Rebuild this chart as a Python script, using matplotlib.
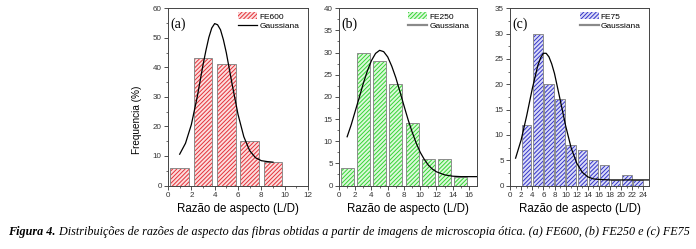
import matplotlib
matplotlib.use("Agg")
import matplotlib.pyplot as plt
from matplotlib.patches import Patch
from matplotlib.lines import Line2D

# histogram bin centres and frequencies (%)
x_a = [1, 3, 5, 7, 9]
freq_a = [6, 43, 41, 15, 8]
x_b = [1, 3, 5, 7, 9, 11, 13, 15]
freq_b = [4, 30, 28, 23, 14, 6, 6, 2]
x_c = [3, 5, 7, 9, 11, 13, 15, 17, 19, 21, 23]
freq_c = [12, 30, 20, 17, 8, 7, 5, 4, 1, 2, 1]

# gaussian fit curves
gx_a = [1, 1.5, 2, 2.5, 3, 3.25, 3.5, 3.75, 4, 4.25, 4.5, 4.75, 5, 5.5, 6,
        6.5, 7, 7.5, 8, 8.5, 9]
gy_a = [10.6, 14.3, 20.6, 29.9, 40.8, 45.7, 50.1, 53.3, 54.8, 54.4, 52.7, 49.3,
        44.9, 34.2, 24.1, 16.5, 11.8, 9.4, 8.4, 8.1, 7.9]
gx_b = [1, 1.5, 2, 2.5, 3, 3.5, 4, 4.5, 5, 5.5, 6, 6.5, 7, 7.5, 8, 8.5, 9, 9.5,
        10, 10.5, 11, 11.5, 12, 13, 14, 15, 16, 17]
gy_b = [11.0, 13.7, 16.8, 19.9, 23.1, 25.9, 28.2, 29.8, 30.5, 30.2, 29.0, 26.9,
        24.3, 21.2, 18.0, 14.9, 12.1, 9.6, 7.5, 5.9, 4.6, 3.7, 3.1, 2.4, 2.1,
        2.0, 2.0, 2.0]
gx_c = [1, 2, 3, 4, 5, 5.5, 6, 6.5, 7, 7.5, 8, 9, 10, 11, 12, 13, 14, 15, 16,
        18, 20, 22, 25]
gy_c = [5.4, 9.0, 13.8, 19.1, 23.7, 25.2, 26.1, 26.1, 25.4, 24.0, 22.1, 17.0,
        11.8, 7.4, 4.4, 2.6, 1.7, 1.3, 1.2, 1.1, 1.1, 1.1, 1.1]

caption_bold = "Figura 4."
caption_rest = (" Distribuições de razões de aspecto das fibras obtidas a partir de "
                "imagens de microscopia ótica. (a) FE600, (b) FE250 e (c) FE75")

plt.rcParams["font.family"] = ["Liberation Sans", "DejaVu Sans"]
plt.rcParams["hatch.linewidth"] = 0.7

HATCH = "////////"

fig = plt.figure(figsize=(6.96, 2.49), dpi=100)

panels = [
    dict(pos=[0.2414, 0.255, 0.2011, 0.712], x=x_a, y=freq_a, gx=gx_a, gy=gy_a,
         xlim=12, ylim=60, ystep=10, xmax_tick=12, tag="(a)", name="FE600",
         face="#fcdede", hatch="#e3323a", width=1.6, leg_line="black"),
    dict(pos=[0.4871, 0.255, 0.1983, 0.712], x=x_b, y=freq_b, gx=gx_b, gy=gy_b,
         xlim=17, ylim=40, ystep=5, xmax_tick=16, tag="(b)", name="FE250",
         face="#dcf9da", hatch="#35d435", width=1.6, leg_line="#8a8a8a"),
    dict(pos=[0.7328, 0.255, 0.1997, 0.712], x=x_c, y=freq_c, gx=gx_c, gy=gy_c,
         xlim=25, ylim=35, ystep=5, xmax_tick=24, tag="(c)", name="FE75",
         face="#dadcf8", hatch="#3434c8", width=1.7, leg_line="#8a8a8a"),
]

for i, p in enumerate(panels):
    ax = fig.add_axes(p["pos"])
    ax.bar(p["x"], p["y"], width=p["width"], color=p["face"],
           edgecolor=p["hatch"], hatch=HATCH, linewidth=0, zorder=2)
    ax.bar(p["x"], p["y"], width=p["width"], fill=False,
           edgecolor="#8c8c8c", linewidth=0.7, zorder=3)
    ax.plot(p["gx"], p["gy"], color="black", linewidth=0.9, zorder=4)

    ax.set_xlim(0, p["xlim"])
    ax.set_ylim(0, p["ylim"])
    ax.set_xticks(range(0, p["xmax_tick"] + 1, 2))
    ax.set_xticks(range(1, p["xmax_tick"] + 1, 2), minor=True)
    ax.set_yticks(range(0, p["ylim"] + 1, p["ystep"]))
    ax.set_yticks([v / 2 for v in range(p["ystep"], 2 * p["ylim"], 2 * p["ystep"])],
                  minor=True)
    ax.tick_params(which="major", direction="out", length=3, width=0.6,
                   labelsize=5.8, pad=1.5, colors="#333333")
    ax.tick_params(which="minor", direction="out", length=1.6, width=0.5,
                   colors="#333333")
    for s in ax.spines.values():
        s.set_linewidth(0.7)
        s.set_color("#444444")

    ax.set_xlabel("Razão de aspecto (L/D)", fontsize=8.3)
    ax.xaxis.set_label_coords(0.5, -0.10)
    if i == 0:
        ax.set_ylabel("Frequencia (%)", fontsize=7.2)
        ax.yaxis.set_label_coords(-0.186, 0.37)

    ax.text(0.02, 0.95, p["tag"], transform=ax.transAxes, fontsize=10,
            family="Liberation Serif", va="top", ha="left")

    handles = [Patch(facecolor=p["face"], edgecolor=p["hatch"], hatch=HATCH,
                     linewidth=0),
               Line2D([], [], color=p["leg_line"],
                      linewidth=0.9 if i == 0 else 1.6)]
    ax.legend(handles, [p["name"], "Gaussiana"], loc="upper left",
              bbox_to_anchor=(0.47, 1.0), frameon=False, fontsize=6,
              handlelength=2.3, handleheight=0.9, labelspacing=0.15,
              handletextpad=0.25, borderpad=0.5, borderaxespad=0)

cap1 = fig.text(0.012, 0.068, caption_bold, fontsize=8.72,
                family="Liberation Serif", style="italic", weight="bold",
                va="center", ha="left")
fig.add_artist(plt.Annotation(caption_rest, xy=(1, 0), xycoords=cap1,
                              va="bottom", ha="left", fontsize=8.72,
                              family="Liberation Serif", style="italic",
                              annotation_clip=False))

fig.savefig("out.png", dpi=100)
